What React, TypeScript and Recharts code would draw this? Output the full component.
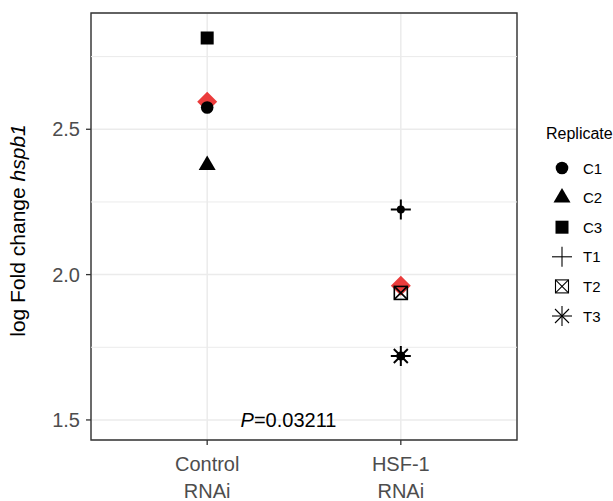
import React from "react";
import {
  ScatterChart,
  Scatter,
  XAxis,
  YAxis,
  CartesianGrid,
  ReferenceLine,
  ReferenceArea,
} from "recharts";

if (typeof document !== "undefined") document.body.style.margin = "0";

// data
const groups = ["Control\nRNAi", "HSF-1\nRNAi"];
const replicates = ["C1", "C2", "C3", "T1", "T2", "T3"];
const replicateGroup = [1, 1, 1, 2, 2, 2];
const foldChange = [2.575, 2.377, 2.814, 2.224, 1.937, 1.72];
const groupMeans = [2.595, 1.962];
const yTicks = [1.5, 2.0, 2.5];
const yMinorTicks = [1.75, 2.25, 2.75];
const pLabel = { x: 1.42, y: 1.5 };

const FONT = "'Liberation Sans', Arial, sans-serif";
const GRID = "#EBEBEB";
const RED = "#EB3C3C";
const Y_DOMAIN: [number, number] = [1.431, 2.9];

// replicate glyphs (big = in plot, small = legend key)
function Glyph({ kind, cx, cy, big }: { kind: string; cx: number; cy: number; big: boolean }) {
  const sw = big ? 2 : 1.1;
  switch (kind) {
    case "C1":
      return <circle cx={cx} cy={cy} r={6.3} fill="#000" />;
    case "C2": {
      const w = 8.5;
      return (
        <polygon
          points={`${cx},${cy - 9.5} ${cx - w},${cy + 5} ${cx + w},${cy + 5}`}
          fill="#000"
        />
      );
    }
    case "C3":
      return <rect x={cx - 6.5} y={cy - 6.5} width={13} height={13} fill="#000" />;
    case "T1":
      return (
        <g stroke="#000" strokeWidth={sw}>
          <line x1={cx - 10} y1={cy} x2={cx + 10} y2={cy} />
          <line x1={cx} y1={cy - 10} x2={cx} y2={cy + 10} />
          {big && <circle cx={cx} cy={cy} r={4} fill="#000" stroke="none" />}
        </g>
      );
    case "T2":
      return (
        <g stroke="#000" strokeWidth={big ? 1.6 : 1.1} fill="none">
          <rect x={cx - 6.5} y={cy - 6.5} width={13} height={13} />
          <line x1={cx - 6.5} y1={cy - 6.5} x2={cx + 6.5} y2={cy + 6.5} />
          <line x1={cx + 6.5} y1={cy - 6.5} x2={cx - 6.5} y2={cy + 6.5} />
        </g>
      );
    case "T3":
      return (
        <g stroke="#000" strokeWidth={sw}>
          <line x1={cx - 10} y1={cy} x2={cx + 10} y2={cy} />
          <line x1={cx} y1={cy - 10} x2={cx} y2={cy + 10} />
          <line x1={cx - 7} y1={cy - 7} x2={cx + 7} y2={cy + 7} />
          <line x1={cx + 7} y1={cy - 7} x2={cx - 7} y2={cy + 7} />
          {big && <circle cx={cx} cy={cy} r={4.5} fill="#000" stroke="none" />}
        </g>
      );
    default:
      return null;
  }
}

const Diamond = ({ cx, cy }: any) => (
  <polygon
    points={`${cx},${cy - 10} ${cx + 10},${cy} ${cx},${cy + 10} ${cx - 10},${cy}`}
    fill={RED}
  />
);

const XTick = ({ x, y, payload }: any) => {
  const lines = groups[payload.value - 1].split("\n");
  return (
    <text x={x} y={y} textAnchor="middle" fontFamily={FONT} fontSize={20} fill="#4D4D4D">
      {lines.map((l, i) => (
        <tspan key={i} x={x} dy={i === 0 ? 24 : 27}>
          {l}
        </tspan>
      ))}
    </text>
  );
};

const YTitle = ({ viewBox }: any) => {
  const cx = 17;
  const cy = viewBox.y + viewBox.height / 2 + 4;
  return (
    <text
      x={cx}
      y={cy}
      transform={`rotate(-90, ${cx}, ${cy})`}
      textAnchor="middle"
      dominantBaseline="central"
      fontFamily={FONT}
      fontSize={21}
      fill="#000"
    >
      log Fold change <tspan fontStyle="italic">hspb1</tspan>
    </text>
  );
};

const PText = ({ cx, cy }: any) => (
  <text
    x={cx}
    y={cy}
    textAnchor="middle"
    dominantBaseline="central"
    fontFamily={FONT}
    fontSize={20}
    fill="#000"
  >
    <tspan fontStyle="italic">P</tspan>=0.03211
  </text>
);

function LegendBox() {
  return (
    <svg
      width={90}
      height={220}
      style={{ position: "absolute", left: 523, top: 120 }}
    >
      <text x={23} y={13} dominantBaseline="central" fontFamily={FONT} fontSize={16} fill="#000">
        Replicate
      </text>
      {replicates.map((r, i) => {
        const cy = 48 + i * 29.6;
        return (
          <g key={r}>
            <Glyph kind={r} cx={39} cy={cy} big={false} />
            <text x={60} y={cy} dominantBaseline="central" fontFamily={FONT} fontSize={15} fill="#000">
              {r}
            </text>
          </g>
        );
      })}
    </svg>
  );
}

export default function App() {
  const meanData = groupMeans.map((m, i) => ({ x: i + 1, y: m }));
  return (
    <div style={{ position: "relative", width: 613, height: 501, background: "#fff" }}>
      <ScatterChart
        width={613}
        height={501}
        margin={{ top: 13, right: 96, bottom: 0, left: 0 }}
      >
        <CartesianGrid stroke={GRID} strokeWidth={1.5} fill="#fff" />
        {yMinorTicks.map((t) => (
          <ReferenceLine key={t} y={t} stroke={GRID} strokeWidth={1} />
        ))}
        <XAxis
          type="number"
          dataKey="x"
          domain={[0.4, 2.6]}
          ticks={[1, 2]}
          allowDataOverflow
          axisLine={false}
          tickLine={{ stroke: "#333", strokeWidth: 1.3 }}
          tickSize={5}
          height={61}
          tick={<XTick />}
        />
        <YAxis
          type="number"
          dataKey="y"
          domain={Y_DOMAIN}
          ticks={yTicks}
          allowDataOverflow
          axisLine={false}
          tickLine={{ stroke: "#333", strokeWidth: 1.3 }}
          tickSize={5}
          tickMargin={6}
          width={91}
          tickFormatter={(v: number) => v.toFixed(1)}
          tick={{ fontFamily: FONT, fontSize: 20, fill: "#4D4D4D" }}
          label={<YTitle />}
        />
        <Scatter data={meanData} shape={<Diamond />} isAnimationActive={false} />
        {replicates.map((r, i) => (
          <Scatter
            key={r}
            name={r}
            data={[{ x: replicateGroup[i], y: foldChange[i] }]}
            shape={(p: any) => <Glyph kind={r} cx={p.cx} cy={p.cy} big />}
            isAnimationActive={false}
          />
        ))}
        <Scatter data={[pLabel]} shape={<PText />} isAnimationActive={false} />
        <ReferenceArea
          x1={0.4}
          x2={2.6}
          y1={Y_DOMAIN[0]}
          y2={Y_DOMAIN[1]}
          fill="none"
          stroke="#333"
          strokeWidth={1.4}
          ifOverflow="visible"
        />
      </ScatterChart>
      <LegendBox />
    </div>
  );
}
